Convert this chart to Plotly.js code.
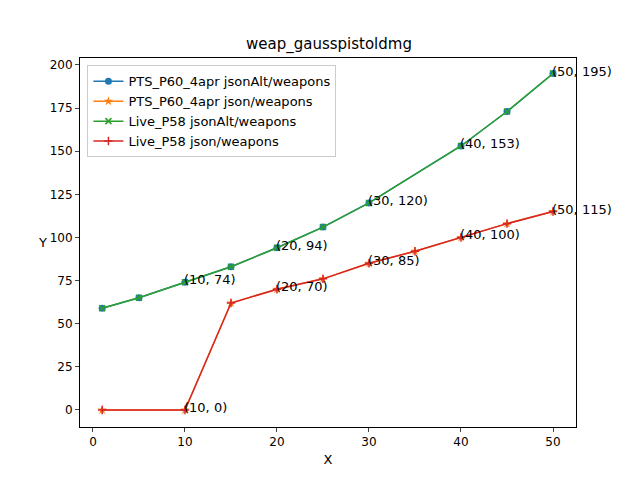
<!DOCTYPE html><html><head><script src="https://cdn.plot.ly/plotly-3.0.1.min.js"></script></head><body style="margin:0"><div id="c" style="width:640px;height:480px"></div><script>
const xA=[1,5,10,15,20,25,30,40,45,50];
const yA=[59,65,74,83,94,106,120,153,173,195];
const xB=[1,10,15,20,25,30,35,40,45,50];
const yB=[0,0,62,70,76,85,92,100,108,115];
const annX=[10,20,30,40,50];
const f='DejaVu Sans';
const traces=[
 {x:xA,y:yA,name:'PTS_P60_4apr jsonAlt/weapons',mode:'lines+markers',line:{color:'#1f77b4',width:1.5},marker:{symbol:'circle',size:7,color:'#1f77b4'}},
 {x:xB,y:yB,name:'PTS_P60_4apr json/weapons',mode:'lines+markers',line:{color:'#ff7f0e',width:1.5},marker:{symbol:'star',size:7,color:'#ff7f0e'}},
 {x:xA,y:yA,name:'Live_P58 jsonAlt/weapons',mode:'lines+markers',line:{color:'#2ca02c',width:1.5},marker:{symbol:'x-thin',size:6,line:{color:'#2ca02c',width:1.5}}},
 {x:xB,y:yB,name:'Live_P58 json/weapons',mode:'lines+markers',line:{color:'#d62728',width:1.5},marker:{symbol:'cross-thin',size:6,line:{color:'#d62728',width:1.5}}}
];
const ann=[];
annX.forEach(v=>{const a=yA[xA.indexOf(v)],b=yB[xB.indexOf(v)];
 [a,b].forEach(y=>ann.push({x:v,y:y,text:'('+v+', '+y+')',showarrow:false,xanchor:'left',yanchor:'bottom',xshift:-3,yshift:-7,font:{family:f,size:13,color:'#000'}}));});
ann.push({xref:'paper',yref:'paper',x:-0.075,y:0.5,text:'Y',showarrow:false,xanchor:'center',yanchor:'middle',font:{family:f,size:13,color:'#000'}});
Plotly.newPlot('c',traces,{width:640,height:480,paper_bgcolor:'#fff',plot_bgcolor:'#fff',
 margin:{l:80,r:64,t:58,b:53},
 title:{text:'weap_gausspistoldmg',font:{family:f,size:15,color:'#000'},x:0.514,y:0.908,yanchor:'middle'},
 xaxis:{range:[-1.41,52.5],tickvals:[0,10,20,30,40,50],showgrid:false,zeroline:false,showline:true,mirror:true,linecolor:'#000',ticks:'outside',ticklen:4,tickfont:{family:f,size:12,color:'#000'},title:{text:'X',font:{family:f,size:13,color:'#000'},standoff:6}},
 yaxis:{range:[-9.86,204],tickvals:[0,25,50,75,100,125,150,175,200],showgrid:false,zeroline:false,showline:true,mirror:true,linecolor:'#000',ticks:'outside',ticklen:4,tickfont:{family:f,size:12,color:'#000'}},
 showlegend:true,legend:{x:0.015,y:0.98,xanchor:'left',yanchor:'top',bgcolor:'rgba(255,255,255,0.8)',bordercolor:'#ccc',borderwidth:1,font:{family:f,size:13,color:'#000'},tracegroupgap:0},
 annotations:ann},{displayModeBar:false});
</script></body></html>
